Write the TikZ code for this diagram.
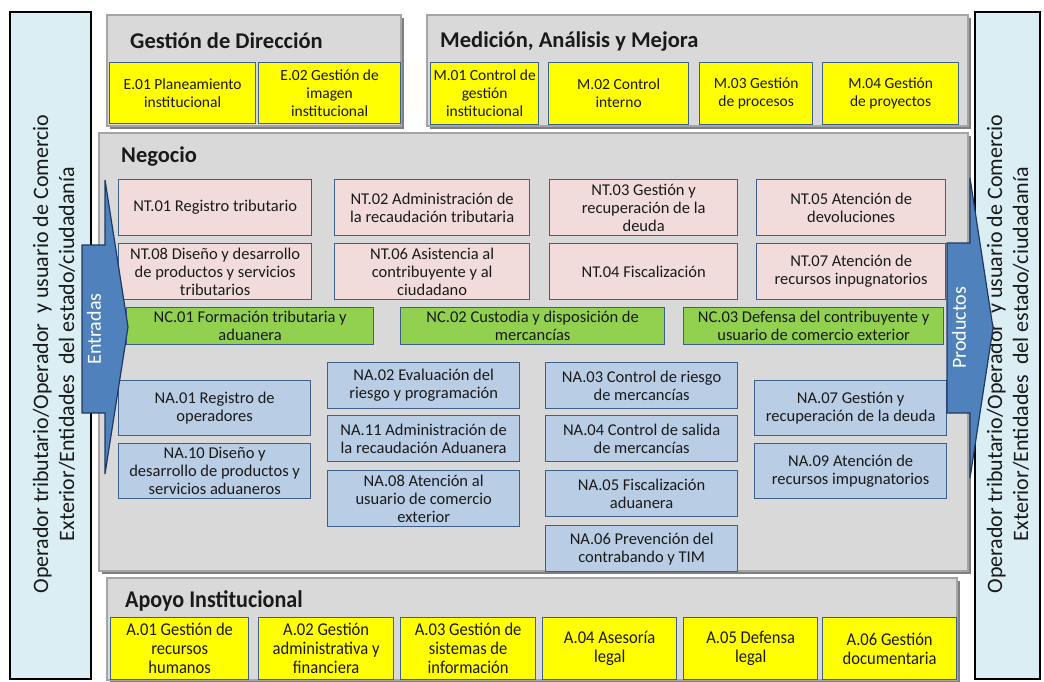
\documentclass[tikz,border=0pt]{standalone}
\usepackage{fontspec}
\setmainfont{Carlito}
\newfontfamily\condfont[FakeStretch=0.92]{Carlito}
\definecolor{boxedge}{HTML}{3E5F8A}
\definecolor{pnkfill}{HTML}{F2DCDB}
\definecolor{grnfill}{HTML}{92D050}
\definecolor{blufill}{HTML}{B9CDE5}
\definecolor{ylwfill}{HTML}{FFFF00}
\definecolor{panelfill}{HTML}{D9D9D9}
\definecolor{paneledge}{HTML}{A5A5A5}
\definecolor{panelshadow}{HTML}{7F7F7F}
\definecolor{outerfill}{HTML}{DBEEF4}
\definecolor{arrowfill}{HTML}{4F81BD}
\definecolor{arrowedge}{HTML}{1F3A60}
\definecolor{txt}{HTML}{1A1A1A}
\newcommand\bxf{\fontsize{16.5}{18}\selectfont}
\newcommand\tbxf{\fontsize{15.5}{18}\selectfont}
\newcommand\cbxf{\condfont\fontsize{18}{19}\selectfont}
\newcommand\ttlf{\bfseries\fontsize{22.5}{24}\selectfont}
\tikzset{
  bx/.style={draw=boxedge, line width=1.3pt, align=center, inner xsep=1pt, inner ysep=1pt,
    anchor=north west, font=\bxf, text=txt},
  ybox/.style={bx, fill=ylwfill, font=\tbxf},
  ycond/.style={bx, fill=ylwfill, font=\cbxf},
  ntbox/.style={bx, fill=pnkfill},
  ncbox/.style={bx, fill=grnfill},
  nabox/.style={bx, fill=blufill},
  panel/.style={fill=panelfill, draw=paneledge, line width=2.2pt},
  pshadow/.style={fill=panelshadow},
  outerbox/.style={fill=outerfill, draw=black, line width=1.5pt},
  ttl/.style={anchor=west, font=\ttlf, text=txt, inner sep=0pt},
  sidetxt/.style={rotate=90, align=center, font=\fontsize{22}{26}\selectfont, text=txt},
  blockarrow/.style={fill=arrowfill, draw=arrowedge, line width=1.2pt, line join=miter},
  arrowtxt/.style={rotate=90, font=\fontsize{20}{22}\selectfont, text=white}
}
\begin{document}
\begin{tikzpicture}[x=1pt,y=-1pt]
\useasboundingbox (0,0) rectangle (1044,682);
% outer side boxes
\draw[outerbox] (10,12) rectangle (91,679);
\draw[outerbox] (975,12) rectangle (1040,679);
\node[sidetxt] (lefttxt) at (54,354) {Operador tributario/Operador~ y usuario de Comercio\\Exterior/Entidades~ del estado/ciudadanía};
\node[sidetxt] (righttxt) at (1008,354) {Operador tributario/Operador~ y usuario de Comercio\\Exterior/Entidades~ del estado/ciudadanía};
% panels
\fill[pshadow] (110,18) rectangle (404,129);
\draw[panel] (107,15) rectangle (401,126);
\fill[pshadow] (430,18) rectangle (971,129);
\draw[panel] (427,15) rectangle (968,126);
\fill[pshadow] (102,136) rectangle (971,574);
\draw[panel] (99,133) rectangle (968,571);
\fill[pshadow] (110,581) rectangle (960,683);
\draw[panel] (107,578) rectangle (957,680);
% titles
\node[ttl] (tdir) at (130,41) {Gestión de Dirección};
\node[ttl] (tmed) at (440,42) {Medición, Análisis y Mejora};
\node[ttl] (tneg) at (121,157) {Negocio};
\node[ttl, font=\condfont\bfseries\fontsize{24}{26}\selectfont] (tapo) at (125,601) {Apoyo Institucional};
% top boxes
\node[ybox, minimum width=146pt, minimum height=61pt] (e01) at (109,62) {E.01 Planeamiento\\institucional};
\node[ybox, minimum width=142pt, minimum height=61pt] (e02) at (258,62) {E.02 Gestión de\\imagen\\institucional};
\node[ybox, minimum width=108pt, minimum height=62pt] (m01) at (430,62) {M.01 Control de\\gestión\\institucional};
\node[ybox, minimum width=140pt, minimum height=62pt] (m02) at (548,62) {M.02 Control\\interno};
\node[ybox, minimum width=113pt, minimum height=62pt] (m03) at (699,62) {M.03 Gestión\\de procesos};
\node[ybox, minimum width=136pt, minimum height=62pt] (m04) at (822,62) {M.04 Gestión\\de proyectos};
% NT boxes
\node[ntbox, minimum width=193pt, minimum height=56pt] (nt01) at (118,179) {NT.01 Registro tributario};
\node[ntbox, minimum width=195pt, minimum height=56pt] (nt02) at (334,179) {NT.02 Administración de\\la recaudación tributaria};
\node[ntbox, minimum width=188pt, minimum height=56pt] (nt03) at (549,179) {NT.03 Gestión y\\recuperación de la\\deuda};
\node[ntbox, minimum width=189pt, minimum height=56pt] (nt05) at (756,179) {NT.05 Atención de\\devoluciones};
\node[ntbox, minimum width=193pt, minimum height=56pt] (nt08) at (118,243) {NT.08 Diseño y desarrollo\\de productos y servicios\\tributarios};
\node[ntbox, minimum width=195pt, minimum height=56pt] (nt06) at (334,243) {NT.06 Asistencia al\\contribuyente y al\\ciudadano};
\node[ntbox, minimum width=188pt, minimum height=56pt] (nt04) at (549,243) {NT.04 Fiscalización};
\node[ntbox, minimum width=189pt, minimum height=56pt] (nt07) at (756,243) {NT.07 Atención de\\recursos inpugnatorios};
% NC boxes
\node[ncbox, minimum width=247pt, minimum height=37pt] (nc01) at (126,307) {NC.01 Formación tributaria y\\aduanera};
\node[ncbox, minimum width=264pt, minimum height=37pt] (nc02) at (400,307) {NC.02 Custodia y disposición de\\mercancías};
\node[ncbox, minimum width=260pt, minimum height=37pt] (nc03) at (683,307) {NC.03 Defensa del contribuyente y\\usuario de comercio exterior};
% NA boxes
\node[nabox, minimum width=192pt, minimum height=55pt] (na01) at (118,380) {NA.01 Registro de\\operadores};
\node[nabox, minimum width=192pt, minimum height=55pt] (na10) at (118,443) {NA.10 Diseño y\\desarrollo de productos y\\servicios aduaneros};
\node[nabox, minimum width=192pt, minimum height=46pt] (na02) at (327,362) {NA.02 Evaluación del\\riesgo y programación};
\node[nabox, minimum width=192pt, minimum height=46pt] (na11) at (327,415) {NA.11 Administración de\\la recaudación Aduanera};
\node[nabox, minimum width=192pt, minimum height=56pt] (na08) at (327,470) {NA.08 Atención al\\usuario de comercio\\exterior};
\node[nabox, minimum width=192pt, minimum height=46pt] (na03) at (545,362) {NA.03 Control de riesgo\\de mercancías};
\node[nabox, minimum width=192pt, minimum height=46pt] (na04) at (545,415) {NA.04 Control de salida\\de mercancías};
\node[nabox, minimum width=192pt, minimum height=46pt] (na05) at (545,470) {NA.05 Fiscalización\\aduanera};
\node[nabox, minimum width=192pt, minimum height=46pt] (na06) at (545,525) {NA.06 Prevención del\\contrabando y TIM};
\node[nabox, minimum width=192pt, minimum height=55pt] (na07) at (754,380) {NA.07 Gestión y\\recuperación de la deuda};
\node[nabox, minimum width=192pt, minimum height=55pt] (na09) at (754,443) {NA.09 Atención de\\recursos impugnatorios};
% Apoyo boxes
\node[ycond, minimum width=138pt, minimum height=62pt] (a01) at (110,617) {A.01 Gestión de\\recursos\\humanos};
\node[ycond, minimum width=135pt, minimum height=62pt] (a02) at (258,617) {A.02 Gestión\\administrativa y\\financiera};
\node[ycond, minimum width=135pt, minimum height=62pt] (a03) at (400,617) {A.03 Gestión de\\sistemas de\\información};
\node[ycond, minimum width=134pt, minimum height=62pt] (a04) at (542,617) {A.04 Asesoría\\legal};
\node[ycond, minimum width=134pt, minimum height=62pt] (a05) at (683,617) {A.05 Defensa\\legal};
\node[ycond, minimum width=134pt, minimum height=62pt] (a06) at (822,617) {A.06 Gestión\\documentaria};
% block arrows
\draw[blockarrow] (82,245) -- (105,245) -- (105,180) -- (128,327) -- (105,474) -- (105,413) -- (82,413) -- cycle;
\node[arrowtxt] (entradas) at (94,329) {Entradas};
\draw[blockarrow] (947,243) -- (970,243) -- (970,178) -- (993,328) -- (970,478) -- (970,413) -- (947,413) -- cycle;
\node[arrowtxt] (productos) at (959,328) {Productos};
\end{tikzpicture}
\end{document}
